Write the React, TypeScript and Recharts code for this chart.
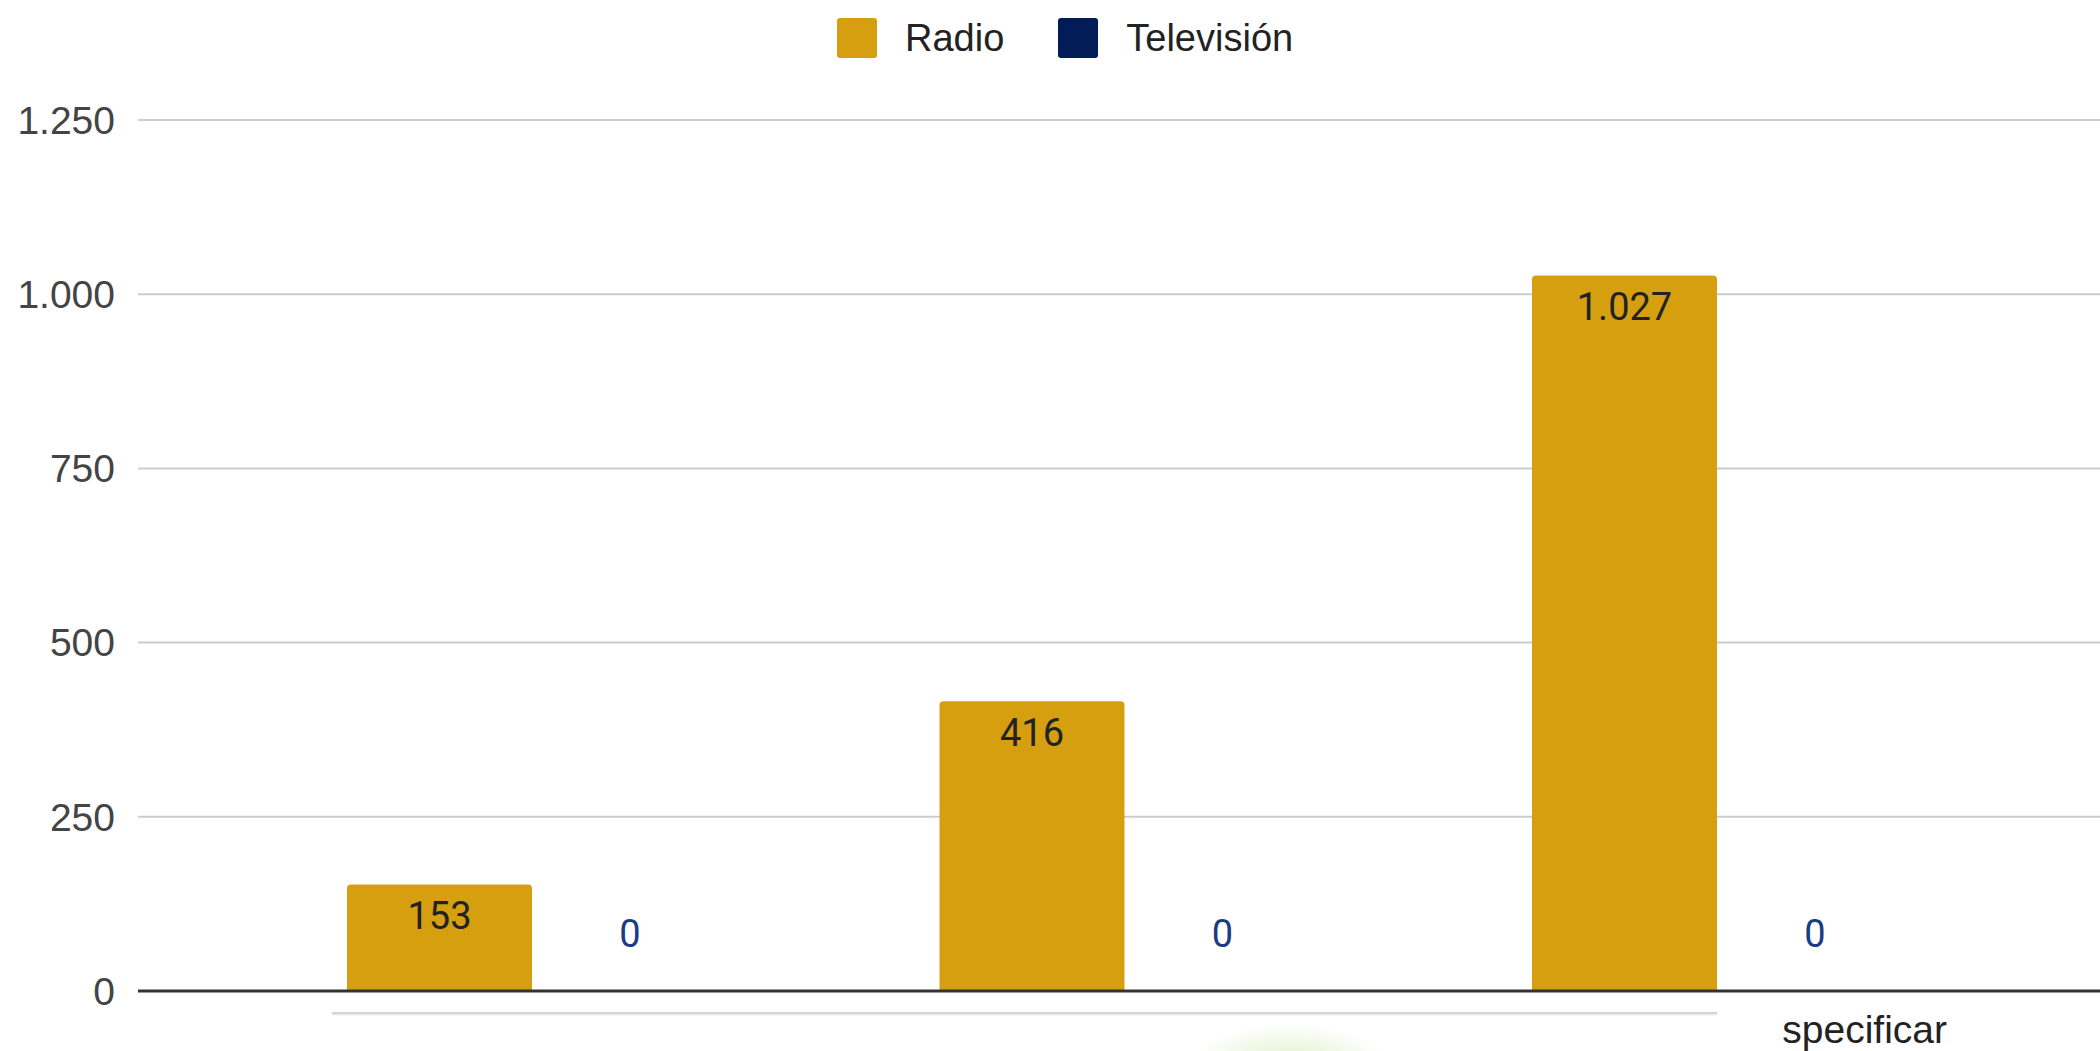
import { BarChart, Bar, XAxis, YAxis, CartesianGrid, LabelList } from "recharts"

const categories = ["c1", "c2", "c3"]
const tickLabels = ["", "", "specificar"]
const radio = [153, 416, 1027]
const television = [0, 0, 0]
const yTicks = [0, 250, 500, 750, 1000, 1250]

const RADIO_COLOR = "#d59f0f"
const TV_COLOR = "#011c57"

const data = categories.map((c, i) => ({
  name: c,
  label: tickLabels[i],
  Radio: radio[i],
  Televisión: television[i],
}))

const fmt = (v: number) => String(v).replace(/\B(?=(\d{3})+(?!\d))/g, ".")

const sans = "'Liberation Sans', Arial, sans-serif"

function XTick(props: any) {
  const { x, y, index } = props
  const text = tickLabels[index]
  if (!text) return null
  return (
    <text x={x + 63} y={y + 52} fill="#222" fontSize={39} fontFamily={sans} textAnchor="start">
      {text}
    </text>
  )
}

// label drawn above bars that have no height (Google-style outside annotation)
function TopLabel(props: any) {
  const { x, y, width, value } = props
  if (value == null) return null
  return (
    <text
      x={Number(x) + Number(width) / 2}
      y={Number(y) - 44}
      textAnchor="middle"
      fill="#1d3b82"
      fontSize={38}
      fontFamily="Roboto, sans-serif"
    >
      {fmt(Number(value))}
    </text>
  )
}

export default function App() {
  const legend = [
    { name: "Radio", color: RADIO_COLOR },
    { name: "Televisión", color: TV_COLOR },
  ]
  return (
    <div style={{ position: "fixed", left: 0, top: 0, width: 2100, height: 1051, background: "#fff", overflow: "hidden" }}>
      <BarChart
        width={2100}
        height={1051}
        data={data}
        margin={{ top: 120, right: 0, left: 0, bottom: 0 }}
        barSize={185}
        barGap={5.5}
      >
        <CartesianGrid vertical={false} stroke="#cccccc" strokeWidth={2} />
        <XAxis
          dataKey="name"
          height={60}
          padding={{ left: 100, right: 84.5 }}
          tickLine={false}
          tickSize={0}
          tickMargin={0}
          tick={<XTick />}
          axisLine={{ stroke: "#333", strokeWidth: 3 }}
          interval={0}
        />
        <YAxis
          width={138}
          domain={[0, 1250]}
          ticks={yTicks}
          axisLine={false}
          tickLine={false}
          tickSize={0}
          tickMargin={23}
          tickFormatter={fmt}
          tick={{ fill: "#444", fontSize: 39, fontFamily: sans }}
        />
        <Bar dataKey="Radio" fill={RADIO_COLOR} radius={[4, 4, 0, 0]} isAnimationActive={false}>
          <LabelList
            dataKey="Radio"
            position="insideTop"
            offset={18}
            formatter={(v: any) => fmt(Number(v))}
            fill="#222"
            fontSize={38}
            fontFamily="Roboto, sans-serif"
          />
        </Bar>
        <Bar dataKey="Televisión" fill={TV_COLOR} minPointSize={0.01} isAnimationActive={false}>
          <LabelList dataKey="Televisión" content={<TopLabel />} />
        </Bar>
      </BarChart>
      <div style={{ position: "absolute", left: 837, top: 18, display: "flex", alignItems: "center", height: 40 }}>
        {legend.map((l) => (
          <div key={l.name} style={{ display: "flex", alignItems: "center", marginRight: 54 }}>
            <div style={{ width: 40, height: 40, background: l.color, borderRadius: 3, marginRight: 28 }} />
            <span style={{ fontFamily: sans, fontSize: 38, color: "#222", lineHeight: "40px" }}>{l.name}</span>
          </div>
        ))}
      </div>
      <div style={{ position: "absolute", left: 332, top: 1012, width: 1385, height: 2, background: "#d4d4d4", boxShadow: "0 1px 2px rgba(0,0,0,0.12)" }} />
      <div
        style={{
          position: "absolute",
          left: 1190,
          top: 1024,
          width: 200,
          height: 70,
          borderRadius: "50%",
          background: "radial-gradient(ellipse at 50% 60%, rgba(170,215,110,0.4), rgba(200,230,160,0) 70%)",
        }}
      />
    </div>
  )
}
